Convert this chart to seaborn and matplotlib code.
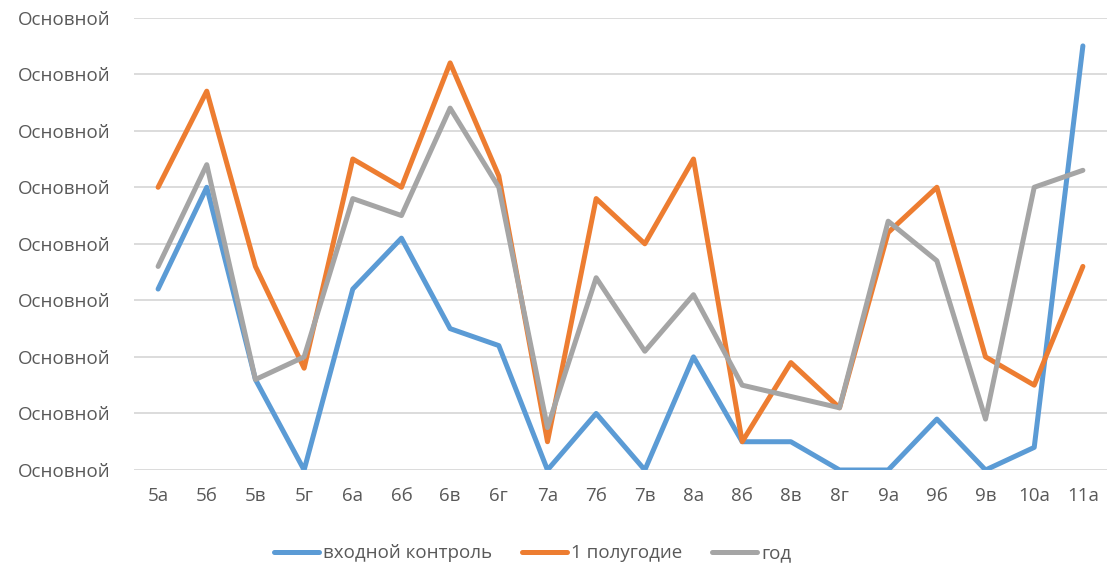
import pandas as pd
import seaborn as sns
import matplotlib.pyplot as plt

# classes and scores
classes = ['5а', '5б', '5в', '5г', '6а', '6б', '6в', '6г', '7а', '7б',
           '7в', '8а', '8б', '8в', '8г', '9а', '9б', '9в', '10а', '11а']
entry = [3.2, 5.0, 1.6, 0, 3.2, 4.1, 2.5, 2.2, 0, 1.0,
         0, 2.0, 0.5, 0.5, 0, 0, 0.9, 0, 0.4, 7.5]
half_year = [5.0, 6.7, 3.6, 1.8, 5.5, 5.0, 7.2, 5.2, 0.5, 4.8,
             4.0, 5.5, 0.5, 1.9, 1.1, 4.2, 5.0, 2.0, 1.5, 3.6]
year = [3.6, 5.4, 1.6, 2.0, 4.8, 4.5, 6.4, 5.0, 0.75, 3.4,
        2.1, 3.1, 1.5, 1.3, 1.1, 4.4, 3.7, 0.9, 5.0, 5.3]
series_names = ['входной контроль', '1 полугодие', 'год']
colors = ['#5B9BD5', '#ED7D31', '#A5A5A5']
y_ticks = list(range(9))
y_label = 'Основной'

df = pd.DataFrame({
    'class': classes * 3,
    'score': entry + half_year + year,
    'series': [s for s in series_names for _ in classes],
})

sns.set_theme(style='white')
plt.rcParams['font.family'] = ['Open Sans', 'DejaVu Sans']

fig = plt.figure(figsize=(11.1, 5.69), dpi=100)
ax = fig.add_axes([0.1205, 0.174, 0.877, 0.795])

sns.lineplot(data=df, x='class', y='score', hue='series', palette=colors,
             sort=False, linewidth=3.6, ax=ax, legend=True)

ax.set_xlim(-0.5, len(classes) - 0.5)
ax.set_ylim(0, 8)
ax.set_yticks(y_ticks)
ax.set_yticklabels([y_label] * len(y_ticks))
ax.grid(axis='y', color='#D9D9D9', linewidth=1.3)
ax.set_axisbelow(True)
for s in ax.spines.values():
    s.set_visible(False)
ax.tick_params(axis='both', length=0, labelsize=13.5, colors='#595959')
ax.tick_params(axis='x', pad=12)
ax.tick_params(axis='y', pad=17)
ax.set_xlabel('')
ax.set_ylabel('')

# legend below the plot, centred like the original
handles, labels = ax.get_legend_handles_labels()
ax.get_legend().remove()
leg = fig.legend(handles, labels, loc='center', bbox_to_anchor=(0.48, 0.028),
                 ncol=3, frameon=False, fontsize=13.5, handlelength=2.4,
                 columnspacing=1.6, handletextpad=0.2)
for t in leg.get_texts():
    t.set_color('#595959')

fig.savefig('out.png', dpi=100)
